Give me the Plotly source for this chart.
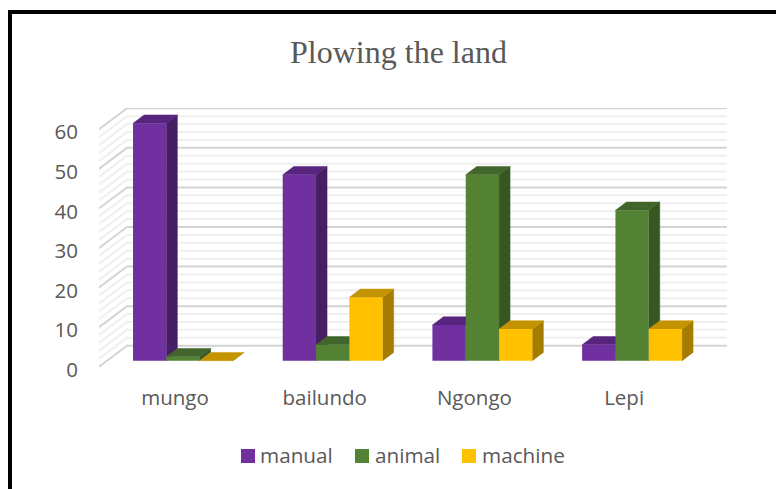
import plotly.graph_objects as go

categories = ["mungo", "bailundo", "Ngongo", "Lepi"]
manual = [60, 47, 9, 4]
animal = [1, 4, 47, 38]
machine = [0, 16, 8, 8]
y_ticks = [0, 10, 20, 30, 40, 50, 60]
minor_ticks = [2, 4, 6, 8, 12, 14, 16, 18, 22, 24, 26, 28, 32, 34, 36, 38,
               42, 44, 46, 48, 52, 54, 56, 58]

series = [
    ("manual", manual, "#7030A0", "#57257D", "#461E64"),
    ("animal", animal, "#548235", "#41652A", "#375722"),
    ("machine", machine, "#FFC000", "#C49400", "#A37C00"),
]
legend_swatch_px = [241, 355, 462]
legend_text_px = [260, 375, 482]

W, H = 776, 489
L, R, T, B = 99, 727, 108, 375      # plot area in pixels
PX_PER_X = 149.7
PX_PER_Y = 3.957
X0 = 183.0                          # pixel of category 0
Y0 = 360.7                          # pixel of value 0 on the bar fronts
BAR_W = 33.3 / PX_PER_X
x_range = [(L - X0) / PX_PER_X, (R - X0) / PX_PER_X]
y_range = [(Y0 - B) / PX_PER_Y, (Y0 - T) / PX_PER_Y]

# depth offsets of the pseudo-3D faces, in axis units
BAR_DX, BAR_DY = 11 / PX_PER_X, 8.3 / PX_PER_Y
WALL_DX, WALL_DY = 28 / PX_PER_X, 21 / PX_PER_Y
WALL_BASE = (Y0 - 366.7) / PX_PER_Y  # front floor edge on the y axis
LABEL_SHIFT = -3 / PX_PER_Y


def poly(points, color):
    path = "M" + "L".join(f"{x},{y}" for x, y in points) + "Z"
    return dict(type="path", path=path, xref="x", yref="y", layer="below",
                fillcolor=color, line=dict(color=color, width=0.5))


def wall_lines(values, color, width):
    out = []
    for v in values:
        y_front = WALL_BASE + v
        y_back = y_front + WALL_DY
        pts = [(x_range[0], y_front), (x_range[0] + WALL_DX, y_back), (x_range[1], y_back)]
        path = "M" + "L".join(f"{x},{y}" for x, y in pts)
        out.append(dict(type="path", path=path, xref="x", yref="y", layer="below",
                        line=dict(color=color, width=width)))
    return out


shapes = wall_lines(minor_ticks, "#EFEFEF", 2) + wall_lines(y_ticks, "#D4D4D4", 2)

n = len(series)
for c in range(len(categories)):
    for s, (_, values, front, top, side) in enumerate(series):
        v = values[c]
        left = c + (s - n / 2) * BAR_W
        right = left + BAR_W
        shapes.append(poly([(right, 0), (right + BAR_DX, BAR_DY),
                            (right + BAR_DX, v + BAR_DY), (right, v)], side))
        shapes.append(poly([(left, v), (left + BAR_DX, v + BAR_DY),
                            (right + BAR_DX, v + BAR_DY), (right, v)], top))

# outer frame: left and top edges only, open towards the window's right and bottom
px = lambda x: (x - L) / (R - L)
py = lambda y: (B - y) / (B - T)
shapes.append(dict(type="path", xref="paper", yref="paper",
                   path=f"M{px(10)},{py(H + 5)}L{px(10)},{py(12)}L{px(W + 5)},{py(12)}",
                   line=dict(color="black", width=4)))

annotations = []
for (name, _, front, _, _), sx, tx in zip(series, legend_swatch_px, legend_text_px):
    shapes.append(dict(type="rect", xref="paper", yref="paper",
                       x0=px(sx), x1=px(sx + 14), y0=py(449), y1=py(463),
                       fillcolor=front, line=dict(width=0)))
    annotations.append(dict(text=name, xref="paper", yref="paper", showarrow=False,
                            x=px(tx), y=py(455), xanchor="left", yanchor="middle",
                            xshift=-2, font=dict(size=20.7, color="#595959")))

fig = go.Figure()
for name, values, front, _, _ in series:
    fig.add_trace(go.Bar(name=name, x=list(range(len(categories))), y=values,
                         marker=dict(color=front, line=dict(width=0)), width=BAR_W))

fig.update_layout(
    width=W, height=H, autosize=False,
    margin=dict(l=L, r=W - R, t=T, b=H - B, pad=0),
    paper_bgcolor="white", plot_bgcolor="rgba(0,0,0,0)",
    barmode="group", bargap=0.332, bargroupgap=0,
    shapes=shapes, annotations=annotations,
    title=dict(text="Plowing the land", x=398.5 / W, xanchor="center",
               y=1 - 52 / H, yanchor="middle",
               font=dict(family="Liberation Serif", size=32, color="#595959")),
    font=dict(family="Open Sans", size=20, color="#595959"),
    xaxis=dict(range=x_range, showgrid=False, zeroline=False, showline=False,
               tickmode="array", tickvals=[i - 8 / PX_PER_X for i in range(len(categories))],
               ticktext=categories, ticks="", ticklabelstandoff=8,
               tickfont=dict(size=20.5, color="#595959")),
    yaxis=dict(range=y_range, showgrid=False, zeroline=False, showline=False,
               tickmode="array", tickvals=[t + WALL_BASE + LABEL_SHIFT for t in y_ticks],
               ticktext=[str(t) for t in y_ticks], ticks="", ticklabelstandoff=20,
               tickfont=dict(size=20.5, color="#595959")),
    showlegend=False,
)

fig.write_html("out.html", config={"displayModeBar": False},
               post_script="document.body.style.margin='0';")
